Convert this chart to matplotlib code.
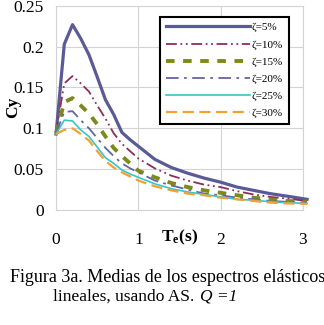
"""Mean elastic spectra Cy vs Te for several damping ratios."""

import matplotlib
matplotlib.use("Agg")
import matplotlib.pyplot as plt

plt.rcParams["font.family"] = ["Liberation Serif", "DejaVu Serif"]
plt.rcParams["mathtext.fontset"] = "custom"
plt.rcParams["mathtext.rm"] = "Liberation Serif"
plt.rcParams["mathtext.bf"] = "Liberation Serif:bold"

period = [0.0, 0.1, 0.2, 0.3, 0.4, 0.5, 0.6, 0.7, 0.8, 0.9, 1.0, 1.2, 1.4,
          1.6, 1.8, 2.0, 2.2, 2.4, 2.6, 2.8, 3.05]
cy_5 = [0.093, 0.203, 0.227, 0.210, 0.190, 0.163, 0.135, 0.117, 0.095, 0.086,
        0.078, 0.062, 0.052, 0.045, 0.039, 0.034, 0.028, 0.024, 0.020, 0.017,
        0.013]
cy_10 = [0.095, 0.155, 0.164, 0.155, 0.145, 0.128, 0.112, 0.094, 0.081, 0.072,
         0.063, 0.051, 0.042, 0.036, 0.031, 0.028, 0.023, 0.019, 0.016, 0.014,
         0.011]
cy_15 = [0.094, 0.132, 0.137, 0.128, 0.118, 0.105, 0.090, 0.076, 0.066, 0.057,
         0.048, 0.040, 0.033, 0.028, 0.024, 0.021, 0.018, 0.015, 0.013, 0.011,
         0.010]
cy_20 = [0.094, 0.120, 0.121, 0.110, 0.100, 0.088, 0.076, 0.066, 0.057, 0.051,
         0.046, 0.036, 0.030, 0.025, 0.020, 0.018, 0.015, 0.013, 0.011, 0.010,
         0.009]
cy_25 = [0.093, 0.110, 0.109, 0.098, 0.090, 0.077, 0.064, 0.057, 0.049, 0.044,
         0.040, 0.032, 0.026, 0.022, 0.019, 0.016, 0.013, 0.012, 0.010, 0.009,
         0.008]
cy_30 = [0.093, 0.098, 0.100, 0.093, 0.085, 0.072, 0.060, 0.052, 0.046, 0.041,
         0.036, 0.029, 0.024, 0.020, 0.018, 0.015, 0.013, 0.011, 0.009, 0.008,
         0.0075]

series = [
    ("ζ=5%", cy_5, "#5a5a96", 2.3, "-"),
    ("ζ=10%", cy_10, "#8e2d5c", 1.3, (0, (6, 2, 1, 2, 1, 2))),
    ("ζ=15%", cy_15, "#7b8a1a", 2.8, (0, (2.2, 2.2))),
    ("ζ=20%", cy_20, "#6464a0", 1.3, (0, (7, 3, 1.5, 3))),
    ("ζ=25%", cy_25, "#35c6c8", 1.2, "-"),
    ("ζ=30%", cy_30, "#f5a030", 1.6, (0, (5, 2.5))),
]

fig = plt.figure(figsize=(3.24, 3.25), dpi=100)
ax = fig.add_axes([0.173, 0.354, 0.762, 0.628])

for label, vals, color, lw, ls in series:
    ax.plot(period, vals, label=label, color=color, linewidth=lw,
            linestyle=ls, clip_on=False, zorder=3)

ax.set_xlim(0, 3)
ax.set_ylim(0, 0.25)
ax.set_xticks([0, 1, 2, 3])
ax.set_yticks([0, 0.05, 0.1, 0.15, 0.2, 0.25])
ax.set_yticklabels(["0", "0.05", "0.1", "0.15", "0.2", "0.25"])
ax.grid(True, color="#d4d4d4", linewidth=0.8)
for sp in ax.spines.values():
    sp.set_color("#d4d4d4")
    sp.set_linewidth(0.8)
ax.tick_params(length=0, labelsize=12.5, colors="black")
ax.tick_params(axis="x", pad=16)
ax.tick_params(axis="y", pad=9)

fig.text(0.04, 0.67, "Cy", rotation=90, fontsize=12.5, fontweight="bold",
         ha="center", va="center")
fig.text(0.555, 0.27, r"$\mathbf{T_e(s)}$", fontsize=12.5, ha="center",
         va="center")

leg = ax.legend(loc="upper left", bbox_to_anchor=(0.494, 0.948),
                bbox_transform=fig.transFigure, fontsize=8, frameon=True,
                fancybox=False, handlelength=7.6, handletextpad=0.15,
                borderpad=0.5, labelspacing=0.66, borderaxespad=0)
leg.get_frame().set_edgecolor("black")
leg.get_frame().set_linewidth(1.5)
leg.get_frame().set_alpha(1)

# caption below the chart
fig.text(0.517, 0.133, "Figura 3a. Medias de los espectros elásticos",
         fontsize=13, ha="center", va="baseline")
line2 = fig.text(0.163, 0.074, "lineales, usando AS.", fontsize=12.5,
                 ha="left", va="baseline")
ax.annotate("Q =1", xy=(1, 0), xycoords=line2, xytext=(4, 0),
            textcoords="offset points", fontsize=12.5, style="italic",
            ha="left", va="bottom", annotation_clip=False)

fig.savefig("out.png", dpi=100)
